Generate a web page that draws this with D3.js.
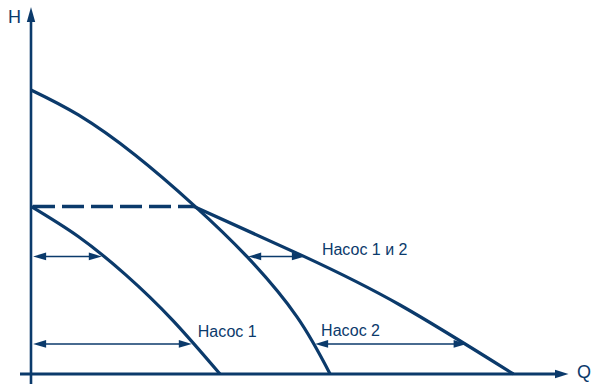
<!DOCTYPE html>
<html>
<head>
<meta charset="utf-8">
<script src="https://cdn.jsdelivr.net/npm/d3@7"></script>
<style>
  html, body { margin: 0; padding: 0; background: #fff; }
  svg { display: block; }
  text { font-family: "Liberation Sans", Arial, sans-serif; }
</style>
</head>
<body>
<svg id="chart" width="591" height="384"></svg>
<script>
// ---- data (Q = flow, H = head, arbitrary units) ----
const pump1Q = [0, 15.75, 31.5, 47.25, 63];
const pump1H = [59, 48.4, 35.0, 18.9, 0];

const pump2Q = [0, 15.8, 34.7, 54.4, 72, 88.6, 99.7];
const pump2H = [100, 91.2, 77.1, 59.3, 41.3, 20.2, 0];

const comboQ = [54.3, 90.8, 123, 160.8];
const comboH = [59.0, 41.5, 24.3, 0];

// dashed shut-off line of pump 1
const dashH = 59;
const dashQ = [0, 54.3];

// double arrows: head level, from Q, to Q
const arrowH    = [41.4, 41.4, 10.6, 10.6];
const arrowFrom = [0.7, 72.4, 0.7, 94.7];
const arrowTo   = [23.6, 91.3, 53.6, 145.2];

const labels = ["Насос 1", "Насос 2", "Насос 1 и 2"];
const axisLabels = ["H", "Q"];

// ---- drawing ----
const color = "#0b3a6b";
const svg = d3.select("#chart");
const x = d3.scaleLinear().domain([0, 180]).range([31, 571]);
const y = d3.scaleLinear().domain([0, 100]).range([374, 90]);

// axes
const x0 = x(0), y0 = y(0);
svg.append("line").attr("x1", x0).attr("y1", 384).attr("x2", x0).attr("y2", 20)
  .attr("stroke", color).attr("stroke-width", 2.6);
svg.append("path").attr("d", `M${x0},7 L${x0-4.2},22 L${x0+4.2},22 Z`).attr("fill", color);
svg.append("line").attr("x1", 20).attr("y1", y0).attr("x2", 557).attr("y2", y0)
  .attr("stroke", color).attr("stroke-width", 3);
svg.append("path").attr("d", `M568.5,${y0} L555,${y0-4.2} L555,${y0+4.2} Z`).attr("fill", color);

svg.append("text").attr("x", 8).attr("y", 22.5).attr("font-size", 18)
  .attr("fill", color).text(axisLabels[0]);
svg.append("text").attr("x", 577).attr("y", 377.5).attr("font-size", 18)
  .attr("fill", color).text(axisLabels[1]);

// curves
const line = d3.line().x(d => x(d[0])).y(d => y(d[1])).curve(d3.curveNatural);
const curves = [
  d3.zip(pump1Q, pump1H),
  d3.zip(pump2Q, pump2H),
  d3.zip(comboQ, comboH)
];
svg.selectAll("path.curve").data(curves).enter().append("path")
  .attr("class", "curve")
  .attr("d", line)
  .attr("fill", "none")
  .attr("stroke", color)
  .attr("stroke-width", 3.2)
  .attr("stroke-linecap", "butt");

// dashed line
svg.append("line")
  .attr("x1", x(dashQ[0]) + 2).attr("x2", x(dashQ[1]))
  .attr("y1", y(dashH)).attr("y2", y(dashH))
  .attr("stroke", color).attr("stroke-width", 3.4)
  .attr("stroke-dasharray", "22,7");

// double-headed arrows
const headL = 13, headW = 3.8;
arrowH.forEach((h, i) => {
  const ay = y(h), ax1 = x(arrowFrom[i]), ax2 = x(arrowTo[i]);
  svg.append("line").attr("x1", ax1 + headL - 1).attr("x2", ax2 - headL + 1)
    .attr("y1", ay).attr("y2", ay)
    .attr("stroke", color).attr("stroke-width", 1.5);
  svg.append("path")
    .attr("d", `M${ax1},${ay} L${ax1+headL},${ay-headW} L${ax1+headL},${ay+headW} Z`)
    .attr("fill", color);
  svg.append("path")
    .attr("d", `M${ax2},${ay} L${ax2-headL},${ay-headW} L${ax2-headL},${ay+headW} Z`)
    .attr("fill", color);
});

// labels
const labelPos = [
  [x(arrowTo[2]) + 6, y(arrowH[2]) - 7],
  [x(arrowFrom[3]) + 6, y(arrowH[3]) - 8],
  [x(arrowTo[1]) + 17, y(arrowH[1]) - 1.5]
];
labels.forEach((t, i) => {
  svg.append("text").attr("x", labelPos[i][0]).attr("y", labelPos[i][1])
    .attr("font-size", 16).attr("fill", color).text(t);
});
</script>
</body>
</html>
